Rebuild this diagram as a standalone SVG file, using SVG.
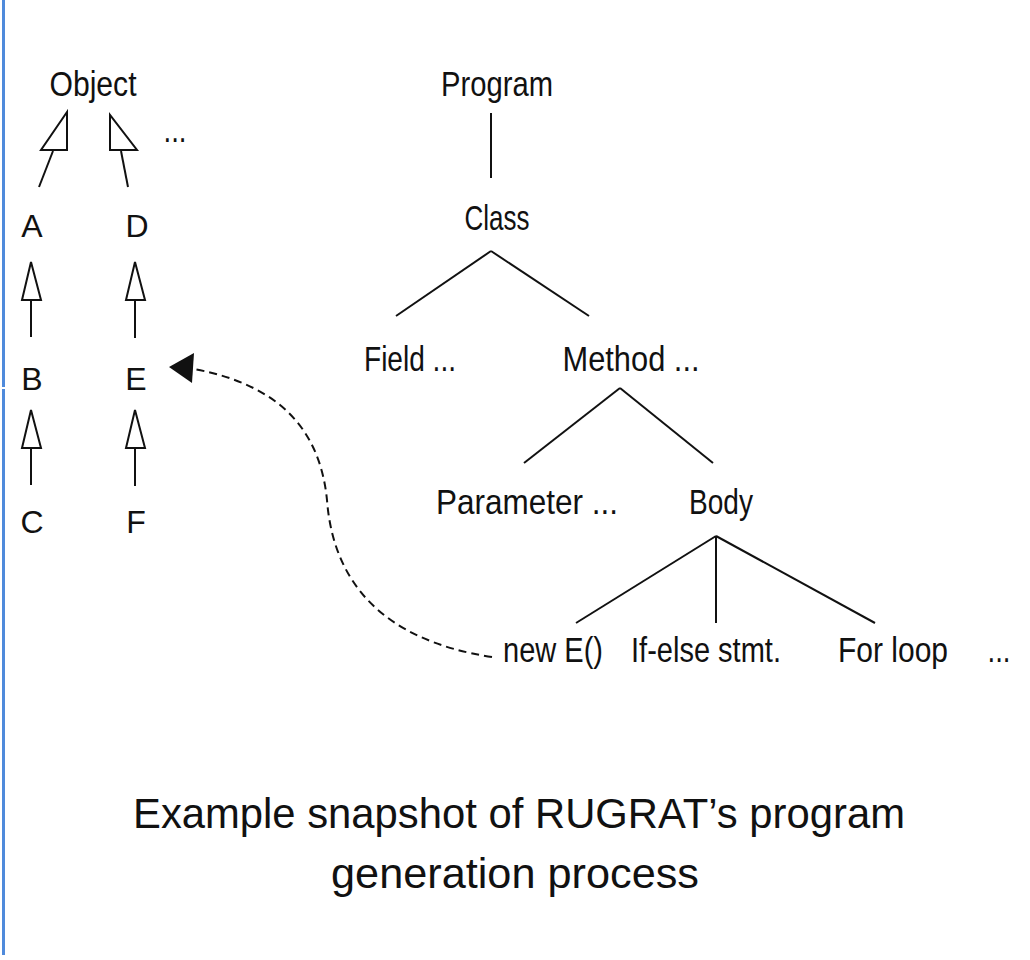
<svg xmlns="http://www.w3.org/2000/svg" width="1030" height="960" viewBox="0 0 1030 960">
<style>
text{font-family:"Liberation Sans",Arial,sans-serif;font-size:35px;fill:#111;text-anchor:middle}
.lt{font-size:32px}
.title{font-size:43px}
.ln{stroke:#111;stroke-width:2;fill:none}
.tri{stroke:#111;stroke-width:2;fill:#fff;stroke-linejoin:miter}
.dash{stroke:#111;stroke-width:2;fill:none;stroke-dasharray:8 5}
</style>
<rect x="0" y="0" width="1030" height="960" fill="#fff"/>
<rect x="2" y="0" width="3" height="387" fill="#4f8adb"/>
<rect x="2" y="389" width="3" height="566" fill="#4f8adb"/>

<g id="connectors">
  <line class="ln" x1="53" y1="151" x2="39" y2="187"/>
  <polygon class="tri" points="67,112 41,150 67,150"/>
  <line class="ln" x1="121" y1="151" x2="128" y2="187"/>
  <polygon class="tri" points="110,115 110,150 137,150"/>
  <line class="ln" x1="31" y1="300" x2="31" y2="337"/>
  <polygon class="tri" points="31,262 22,300 41,300"/>
  <line class="ln" x1="135" y1="300" x2="135" y2="338"/>
  <polygon class="tri" points="135,262 126,300 145,300"/>
  <line class="ln" x1="31" y1="448" x2="31" y2="485"/>
  <polygon class="tri" points="31,410 22,448 41,448"/>
  <line class="ln" x1="135" y1="448" x2="135" y2="486"/>
  <polygon class="tri" points="135,410 126,448 145,448"/>
  <line class="ln" x1="491" y1="113" x2="491" y2="178"/>
  <line class="ln" x1="491" y1="251" x2="396" y2="316"/>
  <line class="ln" x1="491" y1="251" x2="589" y2="316"/>
  <line class="ln" x1="620" y1="388" x2="524" y2="463"/>
  <line class="ln" x1="620" y1="388" x2="713" y2="463"/>
  <line class="ln" x1="716" y1="536" x2="576" y2="623"/>
  <line class="ln" x1="716" y1="536" x2="716" y2="623"/>
  <line class="ln" x1="716" y1="536" x2="875" y2="623"/>
  <path class="dash" d="M 492,657 C 380,640 333,580 327,500 C 320,430 280,385 194,369"/>
  <polygon points="169,367 194,353 192,383" fill="#111"/>
</g>

<g id="node-object"><text x="93" y="96" textLength="87" lengthAdjust="spacingAndGlyphs">Object</text></g>
<g id="node-more-classes"><text x="175" y="142" textLength="23" lengthAdjust="spacingAndGlyphs">...</text></g>
<g id="node-a"><text class="lt" x="32" y="237">A</text></g>
<g id="node-d"><text class="lt" x="137" y="237">D</text></g>
<g id="node-b"><text class="lt" x="32" y="390">B</text></g>
<g id="node-e"><text class="lt" x="136" y="390">E</text></g>
<g id="node-c"><text class="lt" x="32" y="533">C</text></g>
<g id="node-f"><text class="lt" x="136" y="533">F</text></g>

<g id="node-program"><text x="497" y="96" textLength="112" lengthAdjust="spacingAndGlyphs">Program</text></g>
<g id="node-class"><text x="497" y="230" textLength="65" lengthAdjust="spacingAndGlyphs">Class</text></g>
<g id="node-field"><text x="410" y="371" textLength="92" lengthAdjust="spacingAndGlyphs">Field ...</text></g>
<g id="node-method"><text x="631" y="371" textLength="137" lengthAdjust="spacingAndGlyphs">Method ...</text></g>
<g id="node-parameter"><text x="527" y="514" textLength="182" lengthAdjust="spacingAndGlyphs">Parameter ...</text></g>
<g id="node-body"><text x="721" y="514" textLength="64" lengthAdjust="spacingAndGlyphs">Body</text></g>
<g id="node-new-e"><text x="553" y="662" textLength="100" lengthAdjust="spacingAndGlyphs">new E()</text></g>
<g id="node-if-else"><text x="706" y="662" textLength="150" lengthAdjust="spacingAndGlyphs">If-else stmt.</text></g>
<g id="node-for-loop"><text x="893" y="662" textLength="110" lengthAdjust="spacingAndGlyphs">For loop</text></g>
<g id="node-more-stmts"><text x="999" y="662" textLength="23" lengthAdjust="spacingAndGlyphs">...</text></g>

<g id="caption">
  <text class="title" x="519" y="828" textLength="772" lengthAdjust="spacingAndGlyphs">Example snapshot of RUGRAT’s program</text>
  <text class="title" x="515" y="888" textLength="368" lengthAdjust="spacingAndGlyphs">generation process</text>
</g>
</svg>
